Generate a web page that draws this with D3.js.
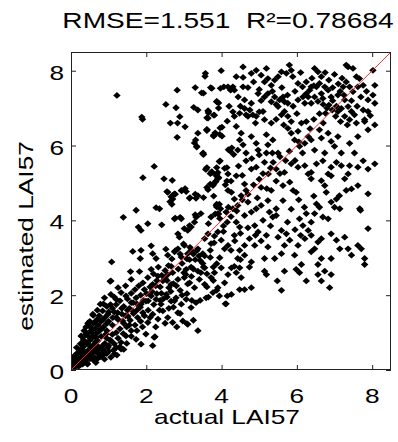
<!DOCTYPE html>
<html>
<head>
<meta charset="utf-8">
<script src="https://cdn.jsdelivr.net/npm/d3@7"></script>
<style>
  html, body { margin: 0; padding: 0; background: #fff; }
  svg { display: block; }
  text { font-family: "Liberation Sans", Arial, sans-serif; fill: #000; white-space: pre; }
</style>
</head>
<body>
<svg id="chart" width="398" height="442"></svg>
<script>
// ---- data ----
const titleText = "RMSE=1.551  R\u00b2=0.78684";
const xLabel = "actual LAI57";
const yLabel = "estimated LAI57";
const xTicks = [0, 2, 4, 6, 8];
const yTicks = [0, 2, 4, 6, 8];
const axisDomain = [0, 8.5];
const oneToOne = [[0, 0], [8.5, 8.5]];

// [actual LAI57, estimated LAI57]
const samples = [
[1.22,7.34],[1.88,6.76],[1.90,6.70],[2.82,7.48],[2.52,7.10],[2.79,7.01],[2.89,6.77],[2.64,6.60],[2.83,6.60],[3.03,6.50],[2.82,6.22],[3.30,7.55],[3.47,7.41],[3.56,7.85],[3.57,7.93],[3.71,7.55],[3.99,8.00],[3.97,7.53],[4.06,7.57],[4.17,7.57],[4.24,7.48],[3.26,7.02],[3.37,6.95],[3.64,6.93],[3.87,7.17],[3.92,7.14],[3.81,6.81],[3.64,6.73],[4.01,6.49],[3.61,6.42],[3.37,6.33],[3.79,6.26],[3.95,6.30],[3.31,6.15],[3.34,5.98],[3.51,5.80],[4.18,5.89],
[2.21,5.44],[1.91,5.14],[2.47,5.11],[2.69,5.07],[2.55,4.77],[2.66,4.63],[2.72,4.68],[2.77,4.70],[2.63,4.50],[2.68,4.43],[2.94,4.79],[3.03,4.85],[3.16,4.61],[3.30,4.70],[3.32,4.59],[2.26,4.34],[2.35,4.31],[1.73,4.27],[1.39,4.08],[3.61,4.88],[3.79,4.97],[3.85,5.05],[3.92,5.14],[3.58,5.36],[3.74,5.30],[3.87,5.41],[3.96,5.59],[3.50,5.78],[3.34,5.96],[3.28,6.07],[3.61,6.40],[3.79,6.28],[3.61,6.74],[3.65,6.87],[3.79,6.81],[3.45,4.18],[3.34,4.10],[3.30,4.15],[2.90,4.08],[2.77,4.06],[3.83,4.17],[3.87,4.36],[3.94,4.43],
[2.57,4.75],[2.70,4.57],[2.75,4.71],[2.93,4.80],[3.06,4.77],[3.15,4.59],[3.37,4.66],[3.59,5.37],[3.70,5.25],[3.86,5.19],[3.90,5.28],[3.94,5.57],[4.08,5.39],[4.17,5.24],[3.64,4.82],[3.77,4.93],[3.83,5.02],[3.90,5.12],[4.10,4.95],[4.17,4.80],
[1.79,3.82],[1.86,3.73],[2.04,3.91],[2.41,3.88],[2.75,4.04],[2.93,4.04],[2.84,3.64],[2.88,3.55],[3.01,3.78],[3.10,3.73],[3.15,3.86],[3.19,3.82],[3.28,3.95],[3.32,4.09],[3.65,3.91],[3.72,4.09],[3.86,4.40],[3.90,4.18],[3.97,4.31],[4.12,4.22],[4.18,4.35],[3.55,3.51],[3.64,3.64],[3.72,3.38],[3.81,3.58],[3.90,3.69],[3.99,3.47],[4.08,3.24],[4.17,3.33],[1.64,3.17],[1.86,3.20],[1.84,2.98],[2.13,3.32],[2.17,3.11],[2.26,2.98],[2.52,3.23],[2.57,3.07],[2.75,3.16],[2.84,3.24],[2.93,3.02],[3.01,3.33],[3.10,3.11],[3.19,3.20],[3.37,3.24],[3.50,3.11],[1.08,2.89],
[1.58,2.63],[1.82,2.63],[2.13,2.69],[2.32,2.75],[2.66,2.77],[3.06,2.69],[3.19,2.75],[3.37,2.64],[3.55,2.73],[3.81,2.60],[3.99,2.73],[4.17,2.55],[1.06,2.38],[1.60,2.42],[1.91,2.33],[2.04,2.47],[2.17,2.29],[2.31,2.51],[2.44,2.38],[2.57,2.55],[2.66,2.29],[2.84,2.42],[3.01,2.47],[3.15,2.33],[3.28,2.20],[3.41,2.42],[3.55,2.29],[3.72,2.47],[3.90,2.20],[4.08,2.33],[3.59,1.93],[3.77,2.07],[3.94,1.98],[4.10,1.77],[4.15,1.98],[3.37,1.05],
[0.78,1.76],[0.89,1.93],[1.06,2.02],[1.20,1.89],[1.33,2.07],[1.46,1.98],[1.60,1.80],[1.73,1.93],[1.86,1.76],[1.99,1.84],[2.13,1.98],[2.26,1.89],[2.39,1.76],[2.53,2.02],[2.66,1.84],[2.79,1.93],[2.93,1.76],[3.06,1.89],[3.19,1.67],[3.32,1.80],
[0.58,1.49],[0.71,1.36],[0.84,1.58],[0.98,1.49],[1.11,1.40],[1.24,1.53],[1.37,1.31],[1.51,1.44],[1.64,1.58],[1.77,1.40],[1.91,1.53],[2.04,1.27],[2.17,1.49],[2.31,1.36],[2.44,1.58],[2.57,1.40],[2.70,1.27],[2.84,1.53],[2.97,1.31],[3.10,1.22],
[0.35,0.91],[0.27,0.91],[0.53,1.05],[0.66,0.87],[0.80,1.09],[0.93,0.96],[1.06,0.78],[1.20,1.00],[1.33,0.74],[1.46,0.91],[1.60,1.05],[1.73,0.82],[1.86,0.69],[1.99,0.96],[2.21,0.87],[2.17,0.65],[1.15,0.43],[1.33,0.56],
[0.09,0.16],[0.18,0.25],[0.27,0.34],[0.35,0.43],[0.44,0.51],[0.53,0.60],[0.62,0.69],[0.71,0.78],[0.13,0.11],[0.22,0.20],[0.40,0.29],[0.49,0.38],[0.58,0.47],[0.75,0.56],[0.84,0.65],[0.89,0.47],[0.98,0.60],[0.62,0.34],[0.80,0.43],[0.31,0.16],[0.04,0.07],[0.44,0.16],[0.66,0.20],[0.89,0.29],[1.06,0.34],
[4.57,8.10],[4.39,7.84],[4.57,7.82],[4.30,7.57],[4.34,7.48],[4.57,7.57],[4.79,7.93],[4.92,8.01],[5.05,7.88],[5.19,8.06],[5.23,7.79],[5.14,7.70],[5.32,7.61],[5.41,7.75],[5.50,7.84],[5.59,7.97],[5.72,7.93],[5.80,8.15],[5.85,8.01],[5.89,7.84],[6.03,7.66],[6.15,7.57],[6.47,8.06],[6.56,7.97],[6.65,7.84],[6.60,7.66],[6.52,7.57],[6.74,7.57],[6.83,7.48],[6.65,7.39],[6.47,7.30],[6.34,7.48],[6.30,7.30],[6.21,7.13],[6.38,7.13],[6.56,7.18],[6.69,7.26],[6.91,7.30],[7.09,7.35],[7.23,7.57],[7.31,7.70],[7.40,7.57],[7.49,7.44],[7.36,8.10],[7.31,8.15],[7.49,8.06],[7.58,7.84],[7.66,7.79],[7.62,7.57],[7.76,7.61],[8.02,8.01],[8.07,7.61],[8.02,7.35],[7.89,7.22],[8.07,7.13],[7.89,6.91],[7.76,6.95],[7.80,6.64],[8.07,6.55],
[7.27,7.22],[7.36,7.04],[7.45,6.91],[7.53,6.82],[7.18,6.99],[7.09,6.91],[7.27,6.78],[7.40,6.69],[7.58,6.60],[7.34,6.55],[7.16,6.64],[7.03,6.78],[6.94,6.95],[6.85,7.08],[6.76,6.86],
[4.34,6.78],[4.48,6.86],[4.61,6.99],[4.65,6.82],[4.70,6.78],[4.83,6.82],[4.92,6.78],[5.10,6.91],[5.14,6.69],[5.32,6.60],[5.59,6.82],[5.67,6.91],[5.76,6.78],[5.85,6.64],
[5.23,7.39],[5.41,7.30],[5.54,7.22],[5.63,7.30],[5.67,7.17],[5.76,7.13],[5.50,7.04],[5.32,7.17],[5.14,7.30],[4.97,7.39],[4.79,7.13],[4.61,7.22],[4.44,7.30],[6.03,7.22],[6.16,7.30],[6.25,7.39],[6.38,7.57],
[4.39,6.51],[4.52,6.33],[4.48,6.15],[4.43,5.88],[4.57,6.02],[4.65,5.80],[4.79,6.24],[4.92,6.06],[4.97,5.88],[5.19,6.29],[5.23,6.02],[5.36,6.15],[5.50,5.80],[5.19,5.80],[5.76,6.46],[5.85,6.33],[5.94,6.15],[6.03,6.38],[6.12,6.60],[6.25,6.64],[6.30,6.24],[6.07,5.98],[6.21,6.06],[6.38,6.15],[6.47,5.88],[6.60,6.42],[6.65,6.20],[6.83,6.33],[6.91,6.11],[7.00,5.98],[6.74,5.80],[7.09,6.24],[7.18,5.80],[7.40,6.06],[7.53,5.80],[7.62,6.24],[7.80,6.69],[7.89,6.42],
[4.65,5.59],[4.79,5.37],[4.92,5.42],[5.14,5.55],[5.37,5.55],[5.24,5.24],[5.45,5.37],[5.67,5.28],[5.85,5.51],[6.03,5.42],[6.21,5.46],[6.38,5.28],[6.52,5.51],[6.69,5.59],[6.83,5.24],[6.91,5.42],[7.05,5.55],[7.18,5.46],[7.36,5.24],[7.40,5.46],[7.62,5.42],[7.76,5.59],[7.89,5.37],[8.07,5.51],
[4.39,5.19],[4.61,4.97],[4.65,4.80],[5.05,4.88],[5.32,4.80],[5.63,4.93],[5.81,5.02],[5.90,4.80],[5.98,4.75],[6.30,5.24],[6.38,5.11],[6.65,5.06],[6.74,4.93],[6.91,5.19],[7.05,4.57],[7.13,4.66],[7.31,4.80],[7.45,4.84],[7.62,4.93],[7.27,5.11],[6.52,4.44],[6.60,4.35],[6.78,4.75],
[7.89,4.71],[7.67,4.31],[7.89,3.78],[6.91,4.49],[7.00,4.35],[7.14,4.31],[6.69,4.09],[6.83,4.04],[6.47,4.18],[6.38,3.95],[6.25,4.18],[6.07,4.04],[6.16,3.86],[6.30,3.73],[6.38,3.60],[6.21,3.51],[6.56,3.42],[6.65,3.51],[6.91,3.64],[7.05,3.47],[7.27,3.55],[7.14,3.24],[7.36,3.24],[7.62,3.33],[7.71,3.24],[7.45,3.07],[7.80,2.98],[6.47,3.24],[6.38,3.16],[6.65,2.98],[6.91,2.98],[6.03,3.33],[5.81,3.47],[5.67,3.33],[5.59,3.73],[5.72,3.64],[5.94,3.07],[5.59,3.11],[5.41,2.98],[5.23,3.29],[5.19,3.60],[5.36,4.09],[5.45,4.31],[5.63,4.53],[4.88,3.86],[4.74,3.51],[4.88,3.33],[4.61,3.33],[4.48,3.20],[4.61,3.07],[4.34,3.60],[4.79,2.89],[5.14,2.98],[4.43,2.98],[4.97,3.69],[5.10,4.00],[5.27,4.22],[5.45,4.13],[4.39,3.95],[4.48,3.82],
[4.26,4.75],[4.34,4.57],[4.43,4.40],[4.52,4.66],[4.70,4.49],[4.79,4.22],[4.92,4.31],[5.05,4.40],[5.23,4.53],[4.61,4.13],[4.30,4.31],
[4.26,2.73],[4.34,2.77],[4.48,2.73],[4.39,2.60],[4.52,2.47],[4.48,2.15],[4.61,2.15],[4.79,2.20],[4.74,2.75],[5.14,2.64],[5.19,2.55],[5.48,2.38],[5.59,2.13],[5.67,2.64],[5.98,2.69],[6.07,2.60],[6.12,2.82],[6.25,2.38],[6.56,2.55],[6.65,2.38],[6.74,2.64],[6.91,2.55],[6.87,2.20],[7.80,2.82],[4.26,2.02],[6.56,2.82],[7.69,4.27],[4.12,1.77],
[3.52,7.40],[3.74,7.53],[3.87,7.18],[3.92,7.00],[3.65,6.91],[3.61,6.43],[3.83,6.34],[3.96,6.47],[4.01,6.25],[3.79,6.25],[3.52,5.76],[3.61,5.41],[3.74,5.27],[3.87,5.23],[3.92,5.14],[3.70,4.97],[3.52,4.61],[3.79,4.65],[3.87,4.43],[3.92,4.17],[4.14,5.41],[4.14,5.05],[4.23,5.85],[4.27,5.94],[4.32,5.76],
[2.99,3.37],[3.16,3.28],[3.25,3.10],[3.34,3.19],[3.43,2.93],[3.52,2.75],[3.61,2.57],[3.70,3.01],[3.78,2.75],[3.87,2.84],[3.08,2.97],[2.90,3.10],[2.77,3.19],[2.68,2.97],[2.59,2.79],[2.50,2.66],[2.41,2.53],[2.28,2.39],[2.19,2.57],[2.10,2.22],[2.01,2.04],[1.92,1.86],[1.84,1.68],[1.75,1.77],[1.66,1.51],[1.57,1.33],[1.48,1.15],[1.39,0.97],[2.28,2.04],[2.37,1.86],[2.55,1.95],[2.72,1.68],[2.90,1.51],[3.08,1.24],[3.25,1.33],[3.61,2.22],[3.78,2.39],[3.87,2.13],[3.65,1.95],[3.43,1.86],[3.21,1.86],[3.08,2.04],[2.90,2.13],[2.72,2.31],[2.55,2.39],[2.37,2.22],[1.04,2.37],[0.86,1.77],[0.59,1.46],[0.28,0.90],[1.22,0.40],[2.23,0.89],[2.81,1.15],
[0.06,0.35],[0.15,0.44],[0.24,0.53],[0.33,0.62],[0.42,0.71],[0.51,0.80],[0.59,0.89],[0.68,0.98],[0.77,1.06],[0.86,1.15],[0.95,1.24],[0.19,0.27],[0.37,0.35],[0.55,0.49],[0.73,0.62],[0.90,0.71],[1.04,0.80],[0.02,0.18],[0.11,0.09],[0.24,0.13],[0.42,0.18],[0.59,0.27],[0.77,0.35],[0.95,0.44],[1.13,0.53],[1.30,0.62],[1.48,0.71],[0.51,1.15],[0.68,1.33],[0.42,0.98],[0.33,0.80],
[0.20,0.45],[0.30,0.55],[0.38,0.75],[0.46,0.90],[0.55,1.00],[0.64,1.10],[0.72,1.20],[0.80,1.30],[0.90,1.40],[1.00,1.55],[1.10,1.65],[1.20,1.75],[1.30,1.85],[1.40,1.70],[1.50,1.90],[1.60,2.05],[1.70,2.15],[1.80,2.25],[1.45,2.25],[1.25,2.20],[1.15,1.95],[0.95,1.70],[0.70,1.60],[0.50,1.30],[0.40,1.15],[0.25,0.70],[0.15,0.60],[0.10,0.30],[0.05,0.25],[0.12,0.20],
[0.30,0.25],[0.45,0.40],[0.55,0.60],[0.65,0.55],[0.70,0.45],[0.85,0.55],[0.95,0.85],[1.00,0.65],[1.10,0.95],[1.15,0.70],[1.25,0.85],[1.30,1.10],[1.40,1.25],[1.55,1.20],[1.60,0.90],[1.70,1.20],[1.75,1.05],[1.85,1.30],[1.90,1.15],[1.95,1.45],[2.05,1.60],[2.10,1.40],[2.20,1.75],[2.25,1.15],[2.35,1.60],[2.45,1.90],[2.50,1.25],[2.60,1.65],[2.65,2.10],[2.75,1.85],[2.80,2.25],[2.95,2.00],[3.00,2.60],[3.10,2.30],[3.20,2.50],[3.30,2.95],[3.45,2.60],[3.55,3.05],[3.70,3.20],[3.80,3.40],[3.95,3.00],[4.05,3.70],[4.15,3.95],[4.25,4.10],[4.40,4.25],[4.50,3.65],[4.55,4.55],[4.70,4.70],[4.85,4.95],[4.95,4.60],[5.00,5.10],[5.10,5.25],[5.20,4.85],[5.30,5.40],[5.45,5.05],[5.55,5.70],[5.70,5.60],[5.80,5.85],[5.95,5.60],[6.05,6.10],[6.15,5.80],[6.35,6.45],[6.45,6.70],[6.60,6.85],[6.70,6.60],[6.80,7.00],[6.95,7.20],[7.05,7.05],[7.15,7.45],[7.25,7.35],[7.10,7.65],[6.95,7.55],[6.85,7.75],[6.75,7.95],[7.00,7.90],[7.20,7.80],[6.40,7.80],[6.25,7.70],[6.10,7.95],[5.95,7.45],[6.45,7.60],[6.70,7.10],[7.45,7.20],[7.60,7.05],[7.70,7.30],[7.85,7.45],[7.95,6.80],
[4.70,7.55],[4.85,7.70],[5.00,7.50],[5.05,7.20],[5.35,7.45],[5.45,7.10],[5.60,7.55],[5.75,7.35],[5.90,7.05],[6.00,6.85],[4.50,7.05],[4.75,6.95],[4.90,6.60],[5.00,6.90],[5.45,6.70],[5.65,6.55],[4.20,7.05],[4.30,6.90],[4.15,6.65],
[4.25,5.05],[4.45,5.45],[4.55,5.20],[4.80,5.65],[5.00,5.75],[5.35,5.80],[5.55,5.25],[4.25,3.20],[4.35,3.45],[4.50,2.95],[4.70,3.80],[4.90,3.60],[5.05,3.45],[5.30,3.85],[5.50,3.55],[5.75,3.95],[5.95,3.75],[6.10,3.60],[6.20,4.35],[6.45,4.65],[6.05,4.55],[5.85,4.30],[4.05,3.85],[3.95,4.05],
[0.35,1.05],[0.45,1.25],[0.60,1.25],[0.75,1.45],[0.85,1.35],[1.00,1.30],[1.05,1.75],[1.15,1.55],[1.25,1.35],[1.35,1.65],[1.45,1.45],[1.55,1.65],[1.65,1.80],[1.75,1.60],[1.85,2.00],[1.95,2.15],[2.05,1.85],[2.15,2.10],[2.25,2.25],[2.40,2.05],[2.50,2.45],[2.60,2.20],[2.70,2.60],[2.85,2.70],[2.95,2.85],[3.05,2.55],[3.15,2.95],[3.25,2.70],[3.40,3.05],[3.50,2.85],[0.20,0.10],[0.35,0.20],[0.50,0.30],[0.70,0.30],[0.85,0.40],[1.00,0.50],[1.20,0.60],[1.40,0.55],[0.15,0.35],[0.30,0.45],[0.50,0.65],[0.65,0.75],[0.80,0.90],[0.95,1.05],[1.10,1.20],[1.20,1.40],[1.35,1.50],[1.50,1.60]
];

// ---- layout ----
const plot = { left: 71, right: 391, top: 52, bottom: 370 };
const stretch = 1.25;   // reference font is wider than Arial
const svg = d3.select("#chart");

const x = d3.scaleLinear().domain(axisDomain).range([plot.left, plot.right]);
const y = d3.scaleLinear().domain(axisDomain).range([plot.bottom, plot.top]);

svg.append("defs").append("clipPath").attr("id", "clip")
  .append("rect").attr("x", plot.left).attr("y", plot.top)
  .attr("width", plot.right - plot.left).attr("height", plot.bottom - plot.top);

// points
const marker = d3.symbol().type(d3.symbolSquare).size(23);
svg.append("g").attr("clip-path", "url(#clip)")
  .selectAll("path").data(samples).join("path")
  .attr("d", marker)
  .attr("transform", d => `translate(${x(d[0])},${y(d[1])}) scale(1.1,1) rotate(45)`)
  .attr("fill", "#000");

// 1:1 line
svg.append("path")
  .attr("clip-path", "url(#clip)")
  .attr("d", d3.line().x(d => x(d[0])).y(d => y(d[1]))(oneToOne))
  .attr("fill", "none").attr("stroke", "#ff2a2a").attr("stroke-width", 1);

// axes with inward ticks on all four sides
const tick = 5;
const gB = svg.append("g").attr("transform", `translate(0,${plot.bottom})`)
  .call(d3.axisBottom(x).tickValues(xTicks).tickSizeInner(-tick).tickSizeOuter(0).tickFormat(""));
const gT = svg.append("g").attr("transform", `translate(0,${plot.top})`)
  .call(d3.axisTop(x).tickValues(xTicks).tickSizeInner(-tick).tickSizeOuter(0).tickFormat(""));
const gL = svg.append("g").attr("transform", `translate(${plot.left},0)`)
  .call(d3.axisLeft(y).tickValues(yTicks).tickSizeInner(-tick).tickSizeOuter(0).tickFormat(""));
const gR = svg.append("g").attr("transform", `translate(${plot.right},0)`)
  .call(d3.axisRight(y).tickValues(yTicks).tickSizeInner(-tick).tickSizeOuter(0).tickFormat(""));
[gB, gT, gL, gR].forEach(g => {
  g.select(".domain").remove();
  g.selectAll(".tick line").attr("stroke", "#222").attr("stroke-width", 1);
});

svg.append("rect")
  .attr("x", plot.left + 0.5).attr("y", plot.top + 0.5)
  .attr("width", plot.right - plot.left - 1).attr("height", plot.bottom - plot.top - 1)
  .attr("fill", "none").attr("stroke", "#222").attr("stroke-width", 1);

// tick labels
const fs = 21;
svg.append("g").selectAll("text").data(xTicks).join("text")
  .attr("transform", d => `translate(${x(d)},402.5) scale(${stretch},1)`)
  .attr("text-anchor", "middle").attr("font-size", fs).text(d => d);
svg.append("g").selectAll("text").data(yTicks).join("text")
  .attr("transform", d => `translate(64,${y(d) + 9}) scale(${stretch},1)`)
  .attr("text-anchor", "end").attr("font-size", fs).text(d => d);

// title
svg.append("text")
  .attr("transform", `translate(228,28) scale(${stretch},1)`)
  .attr("text-anchor", "middle").attr("font-size", 22.5).text(titleText);

// axis labels
svg.append("text")
  .attr("transform", `translate(227,424) scale(${stretch},1)`)
  .attr("text-anchor", "middle").attr("font-size", fs).text(xLabel);
svg.append("text")
  .attr("transform", `translate(33,236) rotate(-90) scale(${stretch},1)`)
  .attr("text-anchor", "middle").attr("font-size", fs).text(yLabel);
</script>
</body>
</html>
